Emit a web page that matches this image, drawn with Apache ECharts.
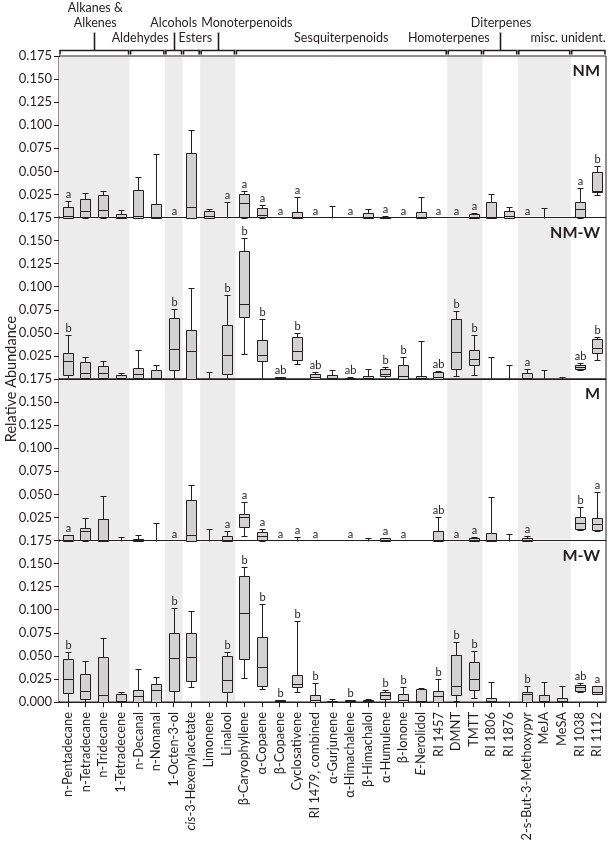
<!DOCTYPE html>
<html><head><meta charset="utf-8">
<script src="https://cdn.jsdelivr.net/npm/echarts@6.0.0/dist/echarts.min.js"></script>
<style>html,body{margin:0;padding:0;background:#fff}#c{width:609px;height:841px}</style>
</head><body><div id="c"></div>
<script>
// ---------------- DATA ----------------
const categories = ['n-Pentadecane','n-Tetradecane','n-Tridecane','1-Tetradecene','n-Decanal','n-Nonanal',
  '1-Octen-3-ol','cis-3-Hexenylacetate','Limonene','Linalool','β-Caryophyllene','α-Copaene','β-Copaene',
  'Cyclosativene','RI 1479, combined','α-Gurjunene','α-Himachalene','β-Himachalol','α-Humulene','β-Ionone',
  'E-Nerolidol','RI 1457','DMNT','TMTT','RI 1806','RI 1876','2-s-But-3-Methoxypyr','MeJA','MeSA','RI 1038','RI 1112'];

const panelNames = ['NM','NM-W','M','M-W'];
const yMin = 0, yMax = 0.175, yStep = 0.025;

// [min, q1, median, q3, max]; null = nothing detected
const NM = [
  [0,0,0.002,0.011,0.018],[0,0.001,0.007,0.020,0.027],[0,0.001,0.0076,0.024,0.0285],[0,0,0.001,0.0036,0.0076],
  [0,0,0.002,0.030,0.044],[0,0,0.001,0.0148,0.0686],null,[0,0,0.0116,0.0697,0.0946],[0,0,0.002,0.0072,0.0097],
  [0,0,0,0,0.0173],[0,0.001,0.016,0.0253,0.029],[0,0.001,0.003,0.010,0.0134],null,[0,0,0.001,0.0058,0.0227],
  null,[0,0,0,0,0.0126],null,[0,0,0.001,0.0047,0.0097],[0,0,0,0.0008,0.0012],null,[0,0,0.001,0.0065,0.022],
  null,null,[0,0,0.001,0.004,0.005],[0,0,0.001,0.0173,0.0253],[0,0,0.002,0.0069,0.011],null,[0,0,0,0,0.0105],
  null,[0,0.001,0.0087,0.0166,0.0318],[0.024,0.0274,0.0292,0.049,0.0563]];
const NM_LETTERS = ['a','','','','','','a','','','a','a','a','a','a','a','','a','','a','a','','a','a','a','','','a','','','a','b'];

const NMW = [
  [0,0.004,0.0199,0.0282,0.048],[0,0.001,0.0065,0.0188,0.0235],[0,0.001,0.0061,0.0137,0.019],[0,0,0.001,0.0047,0.0065],
  [0,0.001,0.0054,0.0119,0.0314],[0,0,0.001,0.0094,0.0148],[0,0.0097,0.0325,0.066,0.0758],[0,0,0.030,0.053,0.099],
  [0,0,0,0,0.0072],[0,0.0054,0.0264,0.0588,0.0906],[0.0271,0.0671,0.0816,0.139,0.153],[0,0.0191,0.0264,0.0426,0.0646],
  [0,0,0.001,0.002,0.0025],[0.0162,0.0206,0.0303,0.0455,0.0498],[0,0,0.002,0.0058,0.0076],[0,0,0.001,0.0047,0.0097],
  [0,0,0,0.0008,0.0025],[0,0,0.001,0.003,0.011],[0,0.003,0.0054,0.0112,0.0134],[0,0,0.003,0.0148,0.0242],
  [0,0,0.001,0.003,0.0408],[0,0,0.002,0.0072,0.0087],[0.0036,0.0112,0.0289,0.0653,0.0733],[0.0047,0.0148,0.022,0.031,0.0477],
  [0,0,0,0,0.0235],[0,0,0,0,0.015],[0,0,0.001,0.006,0.011],[0,0,0,0,0.010],[0,0,0,0,0.0025],
  [0.0097,0.0108,0.0126,0.0148,0.017],[0.0206,0.0278,0.0336,0.0437,0.0458]];
const NMW_LETTERS = ['b','','','','','','b','','','b','b','b','ab','b','ab','','ab','','b','b','','ab','b','b','','','a','','','ab','b'];

const M = [
  [0,0,0.001,0.006,0.0065],[0,0.001,0.010,0.014,0.024],[0,0,0.001,0.0235,0.048],[0,0,0,0,0.0036],
  [0,0,0.001,0.0015,0.0065],[0,0,0,0,0.0195],null,[0,0,0.006,0.0437,0.060],[0,0,0,0,0.012],
  [0,0,0.001,0.005,0.0108],[0.0047,0.0148,0.0253,0.0285,0.0422],[0,0.001,0.005,0.0087,0.0123],null,[0,0,0,0,0.004],
  null,null,null,[0,0,0,0,0.003],[0,0,0.001,0.0025,0.003],null,null,
  [0,0,0.001,0.0105,0.026],null,[0,0,0.001,0.003,0.0043],[0,0,0.001,0.008,0.047],[0,0,0,0,0.007],[0,0,0.001,0.003,0.0054],
  null,null,[0.011,0.0126,0.0188,0.026,0.036],[0.0105,0.0112,0.018,0.0242,0.0523]];
const M_LETTERS = ['a','','','','','','a','','','a','a','a','a','a','a','','a','','a','a','','ab','a','a','','','a','','','b','a'];

const MW = [
  [0,0.0097,0.0253,0.0466,0.054],[0,0.0029,0.0123,0.0307,0.044],[0,0,0.0072,0.0487,0.0693],[0,0,0.001,0.009,0.0108],
  [0,0,0.0065,0.0134,0.036],[0,0,0.0134,0.0199,0.027],[0,0.0123,0.0477,0.0747,0.102],[0.0162,0.0227,0.0487,0.075,0.099],
  null,[0,0.0105,0.0235,0.0495,0.0538],[0.0264,0.047,0.0967,0.136,0.1466],[0.0144,0.017,0.038,0.070,0.106],
  [0,0,0.001,0.0022,0.0022],[0.0108,0.0162,0.0199,0.0289,0.088],[0,0,0.0025,0.008,0.021],[0,0,0,0.001,0.0036],
  [0,0,0.001,0.002,0.0022],[0,0,0.001,0.0025,0.003],[0,0.003,0.0072,0.0108,0.0126],[0,0,0.0025,0.0083,0.0162],
  [0,0,0.001,0.0144,0.0155],[0,0,0.0065,0.012,0.0245],[0.001,0.008,0.0173,0.0505,0.065],[0.0043,0.0126,0.0245,0.0433,0.0556],
  [0,0,0.001,0.0047,0.0217],null,[0,0,0.0083,0.0112,0.0173],[0,0,0.001,0.008,0.0217],[0,0,0.001,0.0047,0.0173],
  [0.0112,0.012,0.016,0.018,0.0206],[0.009,0.009,0.0105,0.017,0.017]];
const MW_LETTERS = ['b','','','','','','b','','','b','b','b','b','b','b','','b','','b','b','','b','b','b','','','b','','','ab','a'];

// compound classes (category index ranges)
const groupNames = [['Alkanes &','Alkenes'],['Aldehydes'],['Alcohols'],['Esters'],['Monoterpenoids'],
  ['Sesquiterpenoids'],['Homoterpenes'],['Diterpenes'],['misc.'],['unident.']];
const groupStart = [0,4,6,7,8,10,22,24,26,29];
const groupEnd   = [3,5,6,7,9,21,23,25,28,30];
// shaded category bands
const shadeStart = [0,6,8,22,26];
const shadeEnd   = [3,6,9,23,28];

// ---------------- LAYOUT / STYLE ----------------
const FONT = 'Lato, "Noto Sans", sans-serif';
const INK = '#231f20';
const panels = [NM, NMW, M, MW];
const letters = [NM_LETTERS, NMW_LETTERS, M_LETTERS, MW_LETTERS];
const gridLeft = 59, gridRight = 3, top0 = 56, panelH = 161.5;
const HEAD_FS = 12.5, XLAB_FS = 12.9;
// header layout: stem?, text x-offset from bracket centre
const groupLayout = [{stem:true,dx:1},{stem:false,dx:-7},{stem:true,dx:0},{stem:false,dx:4},{stem:true,dx:29},
  {stem:false,dx:0},{stem:false,dx:-16},{stem:true,dx:1},{stem:false,dx:0},{stem:false,dx:-5}];

const chart = echarts.init(document.getElementById('c'), null, {renderer:'canvas'});

const grids = [], xAxes = [], yAxes = [], series = [];
panels.forEach((p, k) => {
  const last = k === panels.length - 1;
  grids.push({left: gridLeft, right: gridRight, top: top0 + k*panelH, height: panelH,
    containLabel: false, outerBoundsMode: 'none',
    show: true, borderColor: INK, borderWidth: 1, backgroundColor: 'transparent'});
  xAxes.push({type:'category', gridIndex:k, data: categories, boundaryGap: true,
    axisLine:{show:true, lineStyle:{color:INK, width:1}},
    axisTick:{show:last, alignWithLabel:true, length:5, lineStyle:{color:INK}},
    axisLabel: last ? {show:true, rotate:90, interval:0, margin:10, fontSize:XLAB_FS, fontFamily:FONT, color:INK,
      formatter: v => v.startsWith('cis-') ? '{it|cis}{n|' + v.slice(3) + '}' :
                     v.startsWith('E-') ? '{it|E}{n|' + v.slice(1) + '}' : '{n|' + v + '}',
      rich:{it:{fontStyle:'italic', fontSize:XLAB_FS, fontFamily:FONT, color:INK}, n:{fontSize:XLAB_FS, fontFamily:FONT, color:INK}}}
      : {show:false},
    splitLine:{show:false}});
  yAxes.push({type:'value', gridIndex:k, min:yMin, max:yMax, interval:yStep,
    axisLine:{show:true, lineStyle:{color:INK, width:1}},
    axisTick:{show:true, length:5, lineStyle:{color:INK}},
    axisLabel:{fontSize:13, fontFamily:FONT, color:INK, margin:7,
      formatter: v => (!last && Math.abs(v) < 1e-9) ? '' : v.toFixed(3)},
    splitLine:{show:false}});

  // shaded bands
  series.push({type:'custom', xAxisIndex:k, yAxisIndex:k, z:1, silent:true,
    data: shadeStart.map((s,i)=>[s, shadeEnd[i]]),
    renderItem: (params, api) => {
      const band = api.size([1,0])[0];
      const x0 = api.coord([api.value(0), yMin])[0] - band/2;
      const x1 = api.coord([api.value(1), yMin])[0] + band/2;
      const yb = api.coord([api.value(0), yMin])[1];
      const yt = api.coord([api.value(0), yMax])[1];
      return {type:'rect', shape:{x:x0, y:yt+1, width:x1-x0, height:yb-yt-2}, style:{fill:'#ececec'}};
    }});

  // box plots
  const pdata = p, plet = letters[k];
  series.push({type:'custom', xAxisIndex:k, yAxisIndex:k, z:3, silent:true, clip:false,
    data: pdata.map((r,i)=> r ? [i].concat(r) : [i,0,0,0,0,0]),
    encode:{x:0, y:[1,2,3,4,5]},
    renderItem: (params, api) => {
      const i = params.dataIndex;
      const rec = pdata[i];
      const cx = Math.round(api.coord([i, 0])[0]);
      const Y = v => Math.round(api.coord([i, v])[1]) + 0.5;
      const ls = {stroke: INK, lineWidth: 1, fill: null};
      const ch = [];
      let top = Y(0);
      if (rec) {
        const mn = api.value(1), q1 = api.value(2), md = api.value(3), q3 = api.value(4), mx = api.value(5);
        const xl = cx + 0.5;
        if (mx > q3) {
          ch.push({type:'line', shape:{x1:xl, y1:Y(q3), x2:xl, y2:Y(mx)}, style:ls});
          ch.push({type:'line', shape:{x1:xl-3, y1:Y(mx), x2:xl+3, y2:Y(mx)}, style:ls});
        }
        if (mn < q1) {
          ch.push({type:'line', shape:{x1:xl, y1:Y(q1), x2:xl, y2:Y(mn)}, style:ls});
          ch.push({type:'line', shape:{x1:xl-3, y1:Y(mn), x2:xl+3, y2:Y(mn)}, style:ls});
        }
        if (q3 > q1) {
          ch.push({type:'rect', shape:{x:xl-5, y:Y(q3), width:10, height:Math.max(Y(q1)-Y(q3),1)},
            style:{fill:'#d2d2d2', stroke:INK, lineWidth:1}});
          ch.push({type:'line', shape:{x1:xl-5, y1:Y(md), x2:xl+5, y2:Y(md)}, style:ls});
        }
        top = Y(mx);
      }
      if (plet[i]) {
        ch.push({type:'text', style:{text:plet[i], x:cx+0.5, y:top-2, align:'center', verticalAlign:'bottom',
          fontSize:11, fontFamily:FONT, fill:INK}});
      }
      return {type:'group', children: ch};
    }});
});

// class brackets above the top panel
series.push({type:'custom', xAxisIndex:0, yAxisIndex:0, z:5, silent:true, clip:false,
  data: groupStart.map((s,i)=>[s, groupEnd[i]]),
  renderItem: (params, api) => {
    const gi = params.dataIndex, lay = groupLayout[gi];
    const band = api.size([1,0])[0];
    const x0 = api.coord([api.value(0), yMax])[0] - band/2 + 1;
    const x1 = api.coord([api.value(1), yMax])[0] + band/2 - 1;
    const gt = api.coord([api.value(0), yMax])[1];
    const yb = Math.round(gt - 6) + 0.5;
    const xc = (x0 + x1) / 2;
    const st = {stroke: INK, lineWidth: 1.6, fill: null};
    const ch = [{type:'polyline', shape:{points:[[x0, yb+4],[x0, yb],[x1, yb],[x1, yb+4]]}, style:st}];
    const lines = groupNames[gi];
    const tx = xc + lay.dx;
    if (lay.stem) {
      ch.push({type:'line', shape:{x1:Math.round(xc)+0.5, y1:yb, x2:Math.round(xc)+0.5, y2:yb-18}, style:st});
      lines.slice().reverse().forEach((t, j) => {
        ch.push({type:'text', style:{text:t, x:tx, y:yb-28-15*j, align:'center', verticalAlign:'middle',
          fontSize:HEAD_FS, fontFamily:FONT, fill:INK}});
      });
    } else {
      ch.push({type:'text', style:{text:lines[0], x:tx, y:yb-13, align:'center', verticalAlign:'middle',
        fontSize:HEAD_FS, fontFamily:FONT, fill:INK}});
    }
    return {type:'group', children: ch};
  }});

const graphics = [{type:'text', x:11, y: top0 + 2*panelH, rotation: Math.PI/2, z:10,
  style:{text:'Relative Abundance', fontSize:14.5, fontFamily:FONT, fill:INK, align:'center', verticalAlign:'middle'}}];
panelNames.forEach((n,k) => graphics.push({type:'text', x: 600, y: top0 + k*panelH + 15, z:10,
  style:{text:n, fontSize:16, fontWeight:'bold', fontFamily:FONT, fill:INK, align:'right', verticalAlign:'middle'}}));

chart.setOption({
  animation:false,
  grid: grids, xAxis: xAxes, yAxis: yAxes, series: series, graphic: graphics
});
</script>
</body></html>
